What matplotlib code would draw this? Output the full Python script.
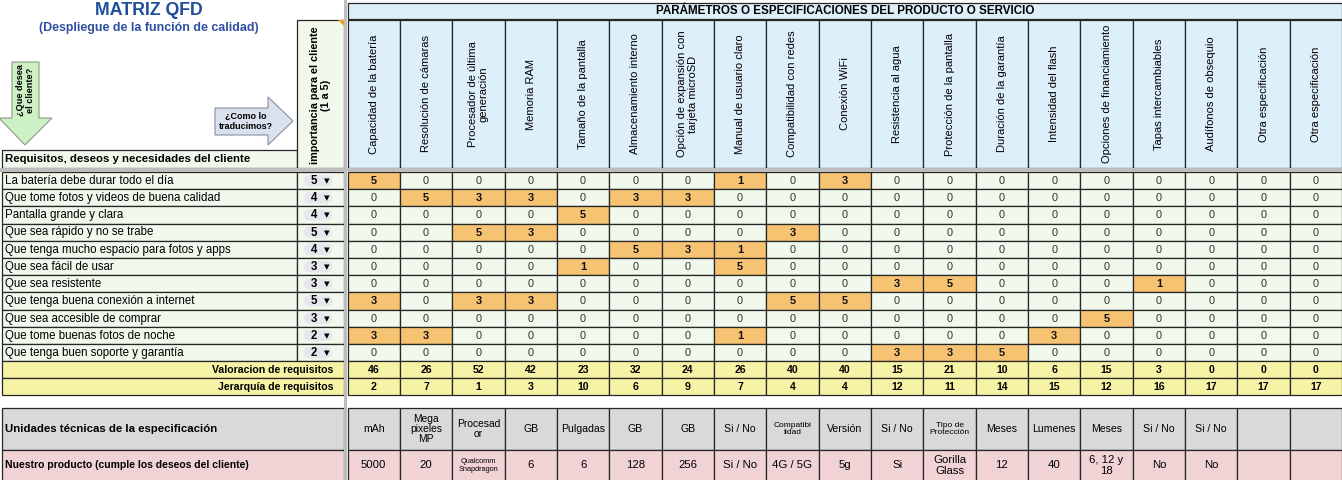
import matplotlib
matplotlib.use("Agg")
import matplotlib.pyplot as plt
from matplotlib.patches import Rectangle, Polygon, FancyBboxPatch

plt.rcParams['font.family'] = ['Liberation Sans', 'DejaVu Sans']

# ---- data ----
requisitos = [
    "La batería debe durar todo el día",
    "Que tome fotos y videos de buena calidad",
    "Pantalla grande y clara",
    "Que sea rápido y no se trabe",
    "Que tenga mucho espacio para fotos y apps",
    "Que sea fácil de usar",
    "Que sea resistente",
    "Que tenga buena conexión a internet",
    "Que sea accesible de comprar",
    "Que tome buenas fotos de noche",
    "Que tenga buen soporte y garantía",
]
importancia = [5, 4, 4, 5, 4, 3, 3, 5, 3, 2, 2]

parametros = [
    "Capacidad de la batería", "Resolución de cámaras",
    "Procesador de última\ngeneración", "Memoria RAM", "Tamaño de la pantalla",
    "Almacenamiento interno", "Opción de expansión con\ntarjeta microSD",
    "Manual de usuario claro", "Compatibilidad con redes", "Conexión WiFi",
    "Resistencia al agua", "Protección de la pantalla", "Duración de la garantía",
    "Intensidad del flash", "Opciones de financiamiento", "Tapas intercambiables",
    "Audífonos de obsequio", "Otra especificación", "Otra especificación",
]

relaciones = [
    [5, 0, 0, 0, 0, 0, 0, 1, 0, 3, 0, 0, 0, 0, 0, 0, 0, 0, 0],
    [0, 5, 3, 3, 0, 3, 3, 0, 0, 0, 0, 0, 0, 0, 0, 0, 0, 0, 0],
    [0, 0, 0, 0, 5, 0, 0, 0, 0, 0, 0, 0, 0, 0, 0, 0, 0, 0, 0],
    [0, 0, 5, 3, 0, 0, 0, 0, 3, 0, 0, 0, 0, 0, 0, 0, 0, 0, 0],
    [0, 0, 0, 0, 0, 5, 3, 1, 0, 0, 0, 0, 0, 0, 0, 0, 0, 0, 0],
    [0, 0, 0, 0, 1, 0, 0, 5, 0, 0, 0, 0, 0, 0, 0, 0, 0, 0, 0],
    [0, 0, 0, 0, 0, 0, 0, 0, 0, 0, 3, 5, 0, 0, 0, 1, 0, 0, 0],
    [3, 0, 3, 3, 0, 0, 0, 0, 5, 5, 0, 0, 0, 0, 0, 0, 0, 0, 0],
    [0, 0, 0, 0, 0, 0, 0, 0, 0, 0, 0, 0, 0, 0, 5, 0, 0, 0, 0],
    [3, 3, 0, 0, 0, 0, 0, 1, 0, 0, 0, 0, 0, 3, 0, 0, 0, 0, 0],
    [0, 0, 0, 0, 0, 0, 0, 0, 0, 0, 3, 3, 5, 0, 0, 0, 0, 0, 0],
]

valoracion = [46, 26, 52, 42, 23, 32, 24, 26, 40, 40, 15, 21, 10, 6, 15, 3, 0, 0, 0]
jerarquia = [2, 7, 1, 3, 10, 6, 9, 7, 4, 4, 12, 11, 14, 15, 12, 16, 17, 17, 17]

unidades = ["mAh", "Mega\npixeles\nMP", "Procesad\nor", "GB", "Pulgadas", "GB", "GB",
            "Si / No", "Compatibi\nlidad", "Versión", "Si / No", "Tipo de\nProtección",
            "Meses", "Lumenes", "Meses", "Si / No", "Si / No", "", ""]
producto = ["5000", "20", "Qualcomm\nSnapdragon", "6", "6", "128", "256", "Si / No",
            "4G / 5G", "5g", "Si", "Gorilla\nGlass", "12", "40", "6, 12 y\n18",
            "No", "No", "", ""]

# ---- layout (pixels) ----
W, H = 1342, 480
cx0, cw = 347.5, 52.35
hdr_top, hdr_bot = 20, 168
row_top, row_h = 172, 17.2
lab_x0, lab_x1, imp_x1 = 2, 297, 344
unit_top, unit_h, prod_h = 408, 42, 34

c_blue = "#DDEFF9"
c_green = "#F1F8EC"
c_orange = "#F6C373"
c_yellow = "#F7F3A6"
c_gray = "#D9D9D9"
c_pink = "#F2D3D5"
c_line = "#262626"
narrow = ["Liberation Sans Narrow", "Liberation Sans"]

fig = plt.figure(figsize=(W / 100, H / 100), dpi=100)
ax = fig.add_axes([0, 0, 1, 1])
ax.set_xlim(0, W)
ax.set_ylim(H, 0)
ax.axis("off")


def cell(x0, y0, w, h, fc, ec=c_line, lw=0.9, z=1):
    ax.add_patch(Rectangle((x0, y0), w, h, facecolor=fc, edgecolor=ec, linewidth=lw, zorder=z))


ncol = len(parametros)
cols_x = [cx0 + i * cw for i in range(ncol)]
right = cols_x[-1] + cw

# title
ax.text(149, 10.5, "MATRIZ QFD", ha="center", va="center", fontsize=12.8,
        fontweight="bold", color="#1F4E9A")
ax.text(149, 27.5, "(Despliegue de la función de calidad)", ha="center", va="center",
        fontsize=8.9, fontweight="bold", color="#2E4FA0")

# green down arrow
ax.add_patch(Polygon([(12, 62), (39, 62), (39, 118), (52, 118), (25, 145), (-1, 118), (12, 118)],
                     closed=True, facecolor="#CDF0C4", edgecolor="#8A9A88", linewidth=0.8))
ax.text(25.5, 90, "¿Que desea\nel cliente?", rotation=90, ha="center", va="center",
        fontsize=6.6, fontweight="bold", linespacing=1.1)

# blue right arrow
ax.add_patch(Polygon([(215, 108), (268, 108), (268, 97), (293, 121), (268, 145), (268, 135), (215, 135)],
                     closed=True, facecolor="#D9E0EE", edgecolor="#8A8FA0", linewidth=0.8))
ax.text(246, 121.5, "¿Como lo\ntraducimos?", ha="center", va="center",
        fontsize=6.5, fontweight="bold", linespacing=1.15)

# left header cells
cell(lab_x0, 150, lab_x1 - lab_x0, hdr_bot - 150, c_green)
ax.text(lab_x0 + 3, 159, "Requisitos, deseos y necesidades del cliente", ha="left",
        va="center", fontsize=8.2, fontweight="bold")
cell(lab_x1, hdr_top, imp_x1 - lab_x1, hdr_bot - hdr_top, c_green)
ax.text((lab_x1 + imp_x1) / 2, (hdr_top + hdr_bot) / 2 + 1, "importancia para el cliente\n(1 a 5)",
        rotation=90, ha="center", va="center", fontsize=7.8, fontweight="bold",
        linespacing=1.1, multialignment="center")
ax.add_patch(Polygon([(imp_x1 - 6, hdr_top), (imp_x1, hdr_top), (imp_x1, hdr_top + 6)],
                     closed=True, facecolor="#E8A317", edgecolor="none", zorder=3))

# parameter band and column headers
cell(cx0, 3, right - cx0, 16, c_blue)
ax.text((cx0 + right) / 2, 11, "PARÁMETROS O ESPECIFICACIONES DEL PRODUCTO O SERVICIO",
        ha="center", va="center", fontsize=8.4, fontweight="bold")
for i, name in enumerate(parametros):
    cell(cols_x[i], hdr_top, cw, hdr_bot - hdr_top, c_blue)
    ax.text(cols_x[i] + cw / 2, (hdr_top + hdr_bot) / 2, name, rotation=90,
            ha="center", va="center", fontsize=8.0, linespacing=1.15,
            multialignment="center")

# requirement rows
for r, req in enumerate(requisitos):
    y = row_top + r * row_h
    cell(lab_x0, y, lab_x1 - lab_x0, row_h, c_green)
    ax.text(lab_x0 + 3, y + row_h / 2 + 0.3, req, ha="left", va="center", fontsize=8.3)
    cell(lab_x1, y, imp_x1 - lab_x1, row_h, c_green)
    ax.add_patch(FancyBboxPatch((lab_x1 + 7, y + 3), 28, row_h - 6,
                                boxstyle="round,pad=0,rounding_size=5.6",
                                facecolor="#E6E8EE", edgecolor="none", zorder=2))
    ax.text(lab_x1 + 17, y + row_h / 2 + 0.5, str(importancia[r]), ha="center",
            va="center", fontsize=8.3, fontweight="bold", zorder=3)
    ax.text(lab_x1 + 29.5, y + row_h / 2 + 0.5, "▼", ha="center", va="center",
            fontsize=5.2, zorder=3, family="DejaVu Sans")
    for c, v in enumerate(relaciones[r]):
        fc = c_orange if v else c_green
        cell(cols_x[c], y, cw, row_h, fc)
        ax.text(cols_x[c] + cw / 2, y + row_h / 2 + 0.5, str(v), ha="center", va="center",
                fontsize=7.9, fontweight="bold" if v else "normal",
                color="#111111" if v else "#333333", zorder=3)

# summary rows
sum_top = row_top + len(requisitos) * row_h
for k, (lab, vals) in enumerate([("Valoracion de requisitos", valoracion),
                                  ("Jerarquía de requisitos", jerarquia)]):
    y = sum_top + k * 17
    cell(lab_x0, y, imp_x1 - lab_x0, 17, c_yellow)
    ax.text(imp_x1 - 11, y + 8.8, lab, ha="right", va="center", fontsize=7.6,
            fontweight="bold", family=narrow)
    for c, v in enumerate(vals):
        cell(cols_x[c], y, cw, 17, c_yellow)
        ax.text(cols_x[c] + cw / 2, y + 8.8, str(v), ha="center", va="center",
                fontsize=7.6, fontweight="bold", family=narrow)

# units and product rows
for k, (lab, vals, fc, h) in enumerate([
        ("Unidades técnicas de la especificación", unidades, c_gray, unit_h),
        ("Nuestro producto (cumple los deseos del cliente)", producto, c_pink, prod_h)]):
    y = unit_top + k * unit_h
    ty = y + (unit_h / 2 if k == 0 else 15.5)
    cell(lab_x0, y, imp_x1 - lab_x0, h, fc)
    ax.text(lab_x0 + 3, ty, lab, ha="left", va="center",
            fontsize=8.2 if k == 0 else 7.5, fontweight="bold")
    for c, v in enumerate(vals):
        cell(cols_x[c], y, cw, h, fc)
        nlines = v.count("\n") + 1
        if v == "Qualcomm\nSnapdragon":
            fs = 5.3
        elif v in ("Compatibi\nlidad", "Tipo de\nProtección"):
            fs = 6.0
        elif k == 1:
            fs = 8.2
        elif nlines > 1:
            fs = 7.4
        else:
            fs = 7.6
        ax.text(cols_x[c] + cw / 2, ty, v, ha="center", va="center", fontsize=fs,
                linespacing=1.05, multialignment="center", family=narrow)

# frozen pane dividers
ax.add_patch(Rectangle((344.2, 0), 3.2, H, facecolor="#BDBDBD", edgecolor="none", zorder=5))
ax.add_patch(Rectangle((0, 168.3), W, 3.2, facecolor="#BDBDBD", edgecolor="none", zorder=5))

fig.savefig("out.png", dpi=100)
